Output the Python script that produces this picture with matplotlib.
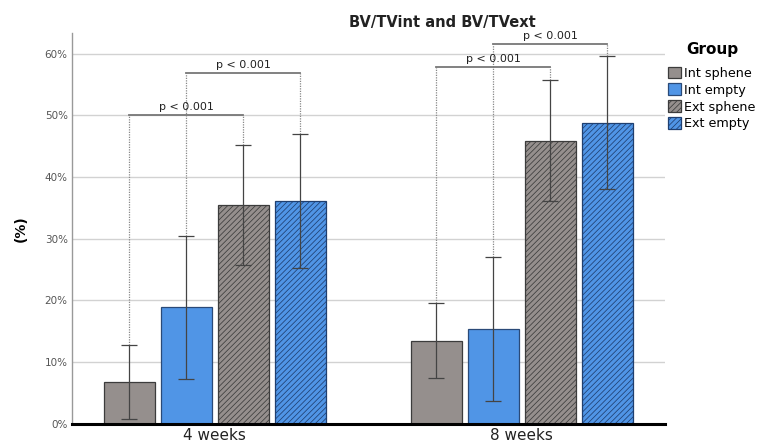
import matplotlib.pyplot as plt
import numpy as np
from matplotlib.patches import Patch

plt.rcParams["hatch.linewidth"] = 0.55

# values in percent
weeks = ["4 weeks", "8 weeks"]
groups = ["Int sphene", "Int empty", "Ext sphene", "Ext empty"]
means = {
    "Int sphene": [6.8, 13.4],
    "Int empty": [18.9, 15.4],
    "Ext sphene": [35.4, 45.8],
    "Ext empty": [36.1, 48.8],
}
err_low = {
    "Int sphene": [0.7, 7.4],
    "Int empty": [7.2, 3.7],
    "Ext sphene": [25.7, 36.1],
    "Ext empty": [25.3, 38.0],
}
err_high = {
    "Int sphene": [12.8, 19.6],
    "Int empty": [30.5, 27.0],
    "Ext sphene": [45.2, 55.7],
    "Ext empty": [46.9, 59.6],
}
# (week index, group a, group b, bracket height, label)
comparisons = [
    (0, "Int sphene", "Ext sphene", 50.0, "p < 0.001"),
    (0, "Int empty", "Ext empty", 56.9, "p < 0.001"),
    (1, "Int sphene", "Ext sphene", 57.8, "p < 0.001"),
    (1, "Int empty", "Ext empty", 61.6, "p < 0.001"),
]

gray = "#958f8d"
blue = "#5095e6"
styles = {
    "Int sphene": dict(color=gray, edge="#3c3c3c", hatch=None),
    "Int empty": dict(color=blue, edge="#2a4a78", hatch=None),
    "Ext sphene": dict(color=gray, edge="#3c3c3c", hatch="//////"),
    "Ext empty": dict(color=blue, edge="#1f3f70", hatch="//////"),
}

fig = plt.figure(figsize=(7.57, 4.48), dpi=100)
ax = fig.add_axes([0.095, 0.054, 0.783, 0.872])

x = np.arange(len(weeks))
step = 0.186
width = 0.166
offsets = {g: (i - 1.5) * step for i, g in enumerate(groups)}

for g in groups:
    xs = x + offsets[g]
    m = np.array(means[g])
    lo = m - np.array(err_low[g])
    hi = np.array(err_high[g]) - m
    st = styles[g]
    ax.bar(xs, m, width, facecolor=st["color"], edgecolor=st["edge"],
           linewidth=0.9, hatch=st["hatch"], zorder=3)
    ax.errorbar(xs, m, yerr=[lo, hi], fmt="none", ecolor="#444444",
                elinewidth=0.9, capsize=6, capthick=0.9, zorder=4)

for wk, a, b, h, label in comparisons:
    xa = x[wk] + offsets[a]
    xb = x[wk] + offsets[b]
    ax.plot([xa, xb], [h, h], color="#777777", lw=1.3, zorder=5)
    ax.plot([xa, xa], [err_high[a][wk], h], color="#888888", lw=0.9,
            ls=(0, (1, 1)), zorder=2)
    ax.plot([xb, xb], [err_high[b][wk], h], color="#888888", lw=0.9,
            ls=(0, (1, 1)), zorder=2)
    ax.text((xa + xb) / 2, h + 0.5, label, ha="center", va="bottom",
            fontsize=8, color="#222222", zorder=6)

ax.set_xlim(-0.466, 1.466)
ax.set_ylim(0, 63.3)
ax.set_yticks(np.arange(0, 61, 10))
ax.set_yticklabels([f"{v}%" for v in range(0, 61, 10)], fontsize=7.5,
                   color="#555555")
ax.set_xticks(x)
ax.set_xticklabels(weeks, fontsize=11, color="#222222")
ax.tick_params(axis="both", length=0, pad=3)
ax.grid(axis="y", color="#d2d2d2", lw=1, zorder=0)
for s in ["top", "right"]:
    ax.spines[s].set_visible(False)
ax.spines["left"].set_color("#999999")
ax.spines["left"].set_linewidth(1)
ax.spines["bottom"].set_color("black")
ax.spines["bottom"].set_linewidth(2.2)
ax.spines["bottom"].set_zorder(7)

fig.text(0.027, 0.49, "(%)", rotation=90, ha="center", va="center",
         fontsize=10, fontweight="bold")
fig.text(0.585, 0.95, "BV/TVint and BV/TVext", ha="center", va="center",
         fontsize=10.5, fontweight="bold", color="#222222")

handles = [Patch(facecolor=styles[g]["color"], edgecolor=styles[g]["edge"],
                 hatch=styles[g]["hatch"], linewidth=0.9) for g in groups]
leg = fig.legend(handles, groups, loc="upper left",
                 bbox_to_anchor=(0.876, 0.918), frameon=False, fontsize=9.2,
                 title="Group", handlelength=1.0, handleheight=1.0,
                 handletextpad=0.25, labelspacing=0.3, borderaxespad=0)
leg.get_title().set_fontweight("bold")
leg.get_title().set_fontsize(11)
leg._legend_box.sep = 7

fig.savefig("out.png", dpi=100)
